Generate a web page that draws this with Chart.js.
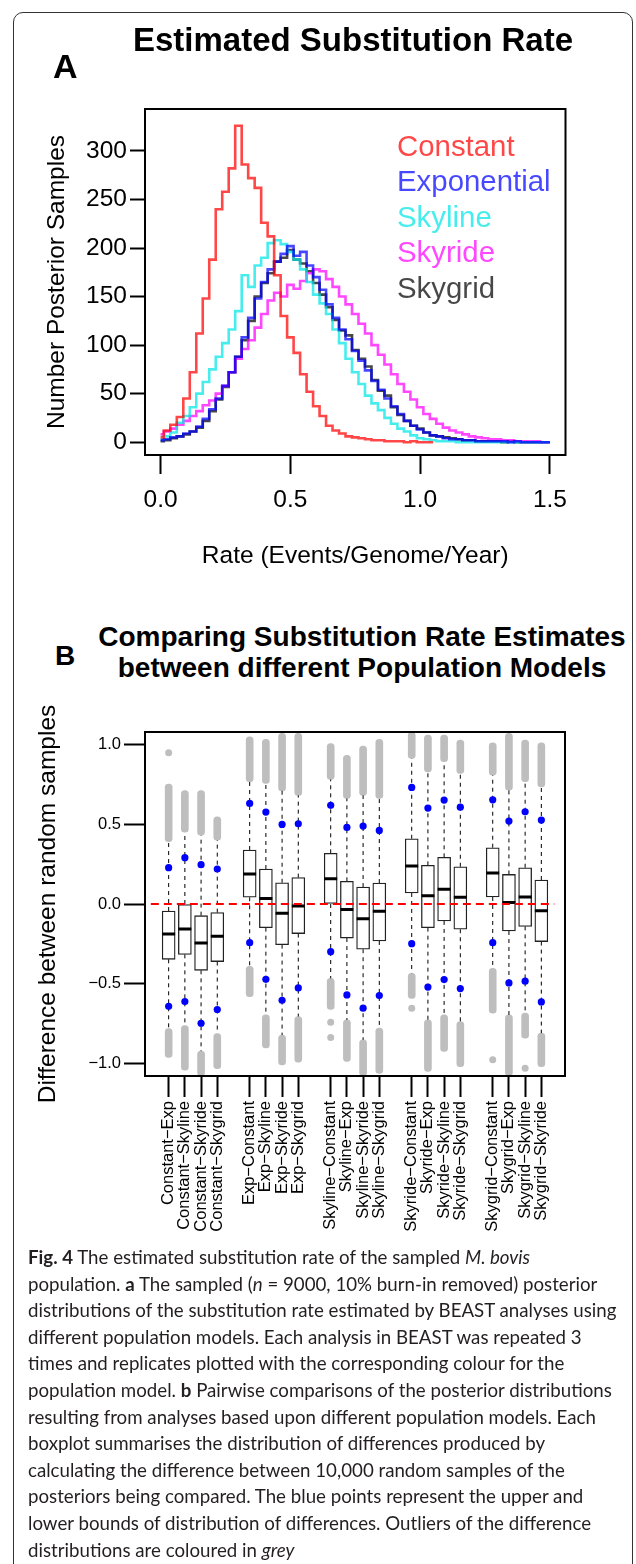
<!DOCTYPE html>
<html>
<head>
<meta charset="utf-8">
<script src="https://cdn.jsdelivr.net/npm/chart.js@4.4.1/dist/chart.umd.min.js"></script>
<style>
  body { margin: 0; background: #fff; }
  #page { position: relative; width: 636px; height: 1564px; overflow: hidden; font-family: 'Liberation Sans', Arial, sans-serif; color: #000; }
  .frame { position: absolute; left: 13px; top: 12px; width: 620px; height: 1640px; border: 1.5px solid #333; border-radius: 10px; box-sizing: border-box; }
  .txt { position: absolute; white-space: nowrap; line-height: 1; }
  .bold { font-weight: bold; }
  canvas { position: absolute; left: 0; }
  #legendA { position: absolute; left: 397px; top: 128px; font-size: 29.4px; line-height: 35.4px; white-space: nowrap; }
  #caption { position: absolute; left: 28px; top: 1244px; font-family: Lato, 'Open Sans', sans-serif; font-size: 18.7px; line-height: 26.6px; color: #231f20; white-space: nowrap; }
</style>
</head>
<body>
<div id="page">
  <div class="frame"></div>
  <canvas id="rate-chart" width="636" height="600" style="top:0"></canvas>
  <canvas id="diff-chart" width="636" height="560" style="top:690px"></canvas>

  <div class="txt bold" style="left:353px; top:23px; font-size:33px; transform:translateX(-50%)">Estimated Substitution Rate</div>
  <div class="txt bold" style="left:53px; top:49px; font-size:34px">A</div>
  <div id="legendA"></div>

  <div class="txt bold" style="left:362px; top:621px; font-size:28px; line-height:31px; text-align:center; transform:translateX(-50%)">Comparing Substitution Rate Estimates<br>between different Population Models</div>
  <div class="txt bold" style="left:55px; top:642px; font-size:28px">B</div>

  <div id="caption">
    <div><b>Fig. 4</b> The estimated substitution rate of the sampled <i>M. bovis</i></div>
    <div>population. <b>a</b> The sampled (<i>n</i> = 9000, 10% burn-in removed) posterior</div>
    <div>distributions of the substitution rate estimated by BEAST analyses using</div>
    <div>different population models. Each analysis in BEAST was repeated 3</div>
    <div>times and replicates plotted with the corresponding colour for the</div>
    <div>population model. <b>b</b> Pairwise comparisons of the posterior distributions</div>
    <div>resulting from analyses based upon different population models. Each</div>
    <div>boxplot summarises the distribution of differences produced by</div>
    <div>calculating the difference between 10,000 random samples of the</div>
    <div>posteriors being compared. The blue points represent the upper and</div>
    <div>lower bounds of distribution of differences. Outliers of the difference</div>
    <div>distributions are coloured in <i>grey</i></div>
  </div>
</div>

<script>
// ---- panel A: posterior histograms of the rate ----
const rateBins = [0.000,0.025,0.050,0.075,0.100,0.125,0.150,0.175,0.200,0.225,
                  0.250,0.275,0.300,0.325,0.350,0.375,0.400,0.425,0.450,0.475,
                  0.500,0.525,0.550,0.575,0.600,0.625,0.650,0.675,0.700,0.725,
                  0.750,0.775,0.800,0.825,0.850,0.875,0.900,0.925,0.950,0.975,
                  1.000,1.025,1.050,1.075,1.100,1.125,1.150,1.175,1.200,1.225,
                  1.250,1.275,1.300,1.325,1.350,1.375,1.400,1.425,1.450,1.475,1.500];

const models = ["Constant", "Exponential", "Skyline", "Skyride", "Skygrid"];
const constantCounts = [5,12,18,26,45,72,112,148,188,240,
                        258,282,326,286,272,262,226,212,172,130,
                        108,92,70,52,37,27,17,12,9,6,
                        5,4,3,2,2,1,1,1,0,1,
                        0,0,0];
const exponentialCounts = [2,3,5,6,9,11,16,24,34,45,
                           58,72,88,108,128,148,165,178,186,194,
                           202,192,196,182,170,157,142,128,116,106,
                           94,84,74,63,54,45,37,29,22,17,
                           13,10,7,6,4,3,3,2,2,1,
                           1,1,1,1,0,1,0,0,0,0,0];
const skylineCounts = [3,6,10,20,27,36,50,62,75,88,
                       102,116,135,172,160,182,190,205,208,204,
                       196,188,178,165,152,143,132,116,102,86,
                       72,60,48,40,33,25,19,14,11,7,
                       4,3,2,1,1,1,0,0,0,0,
                       0,0,0,0,0,0,0,0,0,0,0];
const skyrideCounts = [8,11,14,18,22,27,32,38,43,50,
                       58,72,86,96,105,118,132,146,154,150,
                       162,158,166,174,178,176,168,160,150,142,
                       132,122,112,100,90,80,70,60,52,44,
                       36,29,24,19,15,12,10,8,6,5,
                       4,3,3,2,2,1,1,1,1,0,0];
const skygridCounts = [1,2,4,6,8,11,15,22,32,44,
                       57,72,88,105,125,150,164,174,186,190,
                       198,188,184,176,164,152,139,126,115,110,
                       95,86,78,64,53,48,36,28,22,17,
                       14,10,7,6,5,4,3,2,2,1,
                       1,1,1,0,1,0,0,0,0,0,0];
const modelCounts = [constantCounts, exponentialCounts, skylineCounts, skyrideCounts, skygridCounts];
const modelColors = ["rgba(255,0,0,0.72)", "rgba(0,0,255,0.72)", "rgba(0,230,230,0.72)",
                     "rgba(255,0,255,0.72)", "rgba(0,0,0,0.72)"];
const countTicks = [0, 50, 100, 150, 200, 250, 300];
const rateTicks = [0, 0.5, 1.0, 1.5];
const rateTickLabels = ["0.0", "0.5", "1.0", "1.5"];

// ---- panel B: pairwise differences ----
const pairLabels = ["Constant−Exp","Constant−Skyline","Constant−Skyride","Constant−Skygrid",
                    "Exp−Constant","Exp−Skyline","Exp−Skyride","Exp−Skygrid",
                    "Skyline−Constant","Skyline−Exp","Skyline−Skyride","Skyline−Skygrid",
                    "Skyride−Constant","Skyride−Exp","Skyride−Skyline","Skyride−Skygrid",
                    "Skygrid−Constant","Skygrid−Exp","Skygrid−Skyline","Skygrid−Skyride"];
const pairPos = [1,2,3,4, 6,7,8,9, 11,12,13,14, 16,17,18,19, 21,22,23,24];
const boxHigh = [-0.044,0.000,-0.073,-0.054, 0.338,0.219,0.133,0.165, 0.317,0.142,0.106,0.131,
                 0.408,0.242,0.292,0.233, 0.352,0.185,0.227,0.150];
const boxMid  = [-0.188,-0.156,-0.244,-0.202, 0.188,0.035,-0.058,-0.013, 0.158,-0.035,-0.092,-0.046,
                 0.238,0.052,0.092,0.042, 0.194,0.010,0.044,-0.042];
const boxLow  = [-0.346,-0.315,-0.415,-0.360, 0.042,-0.148,-0.254,-0.185, 0.000,-0.213,-0.283,-0.231,
                 0.069,-0.148,-0.106,-0.158, 0.044,-0.169,-0.140,-0.235];
const whiskerHigh = [0.39,0.45,0.43,0.40, 0.765,0.754,0.708,0.68, 0.779,0.66,0.68,0.66,
                     0.91,0.827,0.89,0.817, 0.806,0.712,0.765,0.733];
const whiskerLow  = [-0.78,-0.76,-0.92,-0.81, -0.39,-0.694,-0.82,-0.704, -0.465,-0.725,-0.85,-0.777,
                     -0.433,-0.725,-0.694,-0.735, -0.402,-0.694,-0.683,-0.808];
const outlierTop    = [0.75,0.71,0.71,0.546, 1.046,1.03,1.067,1.067, 1.004,0.93,0.988,1.03,
                       1.075,1.056,1.056,1.025, 1.008,1.067,1.025,1.008];
const outlierBottom = [-0.96,-1.04,-1.075,-1.03, -0.58,-0.90,-1.006,-0.99, -0.66,-0.985,-1.075,-1.06,
                       -0.59,-1.048,-0.923,-1.017, -0.683,-1.075,-0.84,-1.017];
const strayPos = [1, 11, 11, 16, 21, 23];
const strayVal = [0.946, -0.74, -0.835, -0.652, -0.975, -1.027];
const boundHigh = [0.227,0.29,0.246,0.219, 0.629,0.575,0.498,0.502, 0.617,0.479,0.4875,0.46,
                   0.729,0.60,0.65,0.606, 0.652,0.519,0.577,0.525];
const boundLow  = [-0.64,-0.61,-0.746,-0.66, -0.242,-0.471,-0.602,-0.525, -0.298,-0.569,-0.652,-0.573,
                   -0.248,-0.52,-0.473,-0.529, -0.242,-0.494,-0.483,-0.6125];
const diffTicks = [-1, -0.5, 0, 0.5, 1];
const diffTickLabels = ["−1.0", "−0.5", "0.0", "0.5", "1.0"];

Chart.defaults.font.family = "'Liberation Sans', Arial, sans-serif";
Chart.defaults.color = "#000";
Chart.defaults.animation = false;

// R-style box round the plotting region
const plotFrame = {
    id: "plotFrame",
    afterDatasetsDraw(chart) {
        const { ctx, chartArea: a } = chart;
        ctx.save();
        ctx.strokeStyle = "#000";
        ctx.lineWidth = 2;
        ctx.strokeRect(a.left, a.top, a.right - a.left, a.bottom - a.top);
        ctx.restore();
    }
};

document.addEventListener("DOMContentLoaded", () => {
    // legend text for panel A
    const legend = document.getElementById("legendA");
    models.forEach((m, k) => {
        const d = document.createElement("div");
        d.textContent = m;
        d.style.color = modelColors[k];
        legend.appendChild(d);
    });

    new Chart(document.getElementById("rate-chart"), {
        type: "line",
        data: {
            datasets: models.map((m, k) => ({
                label: m,
                data: modelCounts[k].map((v, i) => ({ x: rateBins[i], y: v })),
                borderColor: modelColors[k],
                borderWidth: 2.6,
                stepped: "middle",
                pointRadius: 0,
                fill: false
            }))
        },
        options: {
            responsive: false,
            layout: { padding: { left: 0, top: 109, right: 70.5, bottom: 0 } },
            plugins: { legend: { display: false }, tooltip: { enabled: false } },
            scales: {
                x: {
                    type: "linear", min: -0.06, max: 1.56,
                    afterBuildTicks: axis => { axis.ticks = rateTicks.map(v => ({ value: v })); },
                    afterFit: scale => { scale.height = 145; },
                    ticks: { font: { size: 24.5 }, padding: 12, maxRotation: 0, autoSkip: false,
                             callback: v => rateTickLabels[rateTicks.indexOf(v)] },
                    grid: { drawOnChartArea: false, tickLength: 19, tickWidth: 2, tickColor: "#000" },
                    border: { display: false },
                    title: { display: true, text: "Rate (Events/Genome/Year)", font: { size: 24.5 },
                             padding: { top: 0, bottom: 29.3 } }
                },
                y: {
                    min: -13.2, max: 343.2,
                    afterBuildTicks: axis => { axis.ticks = countTicks.map(v => ({ value: v })); },
                    afterFit: scale => { scale.width = 145; },
                    ticks: { font: { size: 24.5 }, padding: 3 },
                    grid: { drawOnChartArea: false, tickLength: 15, tickWidth: 2, tickColor: "#000" },
                    border: { display: false },
                    title: { display: true, text: "Number Posterior Samples", font: { size: 24.5 },
                             padding: { top: 42.3, bottom: 0 } }
                }
            }
        },
        plugins: [plotFrame]
    });

    const BOX_HALF = 0.4;
    const whiskers = [];
    const medians = [];
    pairPos.forEach((p, i) => {
        whiskers.push({ x: p, y: boxHigh[i] }, { x: p, y: whiskerHigh[i] }, { x: p, y: null },
                      { x: p, y: boxLow[i] }, { x: p, y: whiskerLow[i] }, { x: p, y: null });
        medians.push({ x: p - BOX_HALF, y: boxMid[i] }, { x: p + BOX_HALF, y: boxMid[i] }, { x: p, y: null });
    });

    new Chart(document.getElementById("diff-chart"), {
        type: "bar",
        data: {
            datasets: [
                {
                    type: "line", label: "zero", order: 0,
                    data: [{ x: -0.1, y: 0 }, { x: 24.8, y: 0 }],
                    borderColor: "#ff0000", borderWidth: 2, borderDash: [8, 5], pointRadius: 0
                },
                {
                    type: "scatter", label: "bounds", order: 1,
                    data: pairPos.map((p, i) => ({ x: p, y: boundHigh[i] }))
                        .concat(pairPos.map((p, i) => ({ x: p, y: boundLow[i] }))),
                    backgroundColor: "#0000ff", borderWidth: 0, pointRadius: 3.6
                },
                {
                    type: "line", label: "median", order: 2, data: medians,
                    borderColor: "#000", borderWidth: 3, pointRadius: 0, spanGaps: false
                },
                {
                    type: "bar", label: "box", order: 3, grouped: false,
                    data: pairPos.map((p, i) => ({ x: p, y: [boxLow[i], boxHigh[i]] })),
                    backgroundColor: "#fff", borderColor: "#222", borderWidth: 1.3,
                    borderSkipped: false, barThickness: 13
                },
                {
                    type: "line", label: "whisker", order: 4, data: whiskers,
                    borderColor: "#000", borderWidth: 1, borderDash: [4, 4], pointRadius: 0, spanGaps: false
                },
                {
                    type: "bar", label: "upper outliers", order: 5, grouped: false,
                    data: pairPos.map((p, i) => ({ x: p, y: [whiskerHigh[i], outlierTop[i]] })),
                    backgroundColor: "#bebebe", borderWidth: 0, borderSkipped: false,
                    borderRadius: 3.5, barThickness: 7
                },
                {
                    type: "bar", label: "lower outliers", order: 5, grouped: false,
                    data: pairPos.map((p, i) => ({ x: p, y: [outlierBottom[i], whiskerLow[i]] })),
                    backgroundColor: "#bebebe", borderWidth: 0, borderSkipped: false,
                    borderRadius: 3.5, barThickness: 7
                },
                {
                    type: "scatter", label: "stray outliers", order: 5,
                    data: strayPos.map((p, i) => ({ x: p, y: strayVal[i] })),
                    backgroundColor: "#bebebe", borderWidth: 0, pointRadius: 3.5
                }
            ]
        },
        options: {
            responsive: false,
            layout: { padding: { left: 0, top: 42, right: 71, bottom: 0 } },
            plugins: { legend: { display: false }, tooltip: { enabled: false } },
            scales: {
                x: {
                    type: "linear", min: -0.46, max: 25.46, offset: false,
                    afterBuildTicks: axis => { axis.ticks = pairPos.map(v => ({ value: v })); },
                    afterFit: scale => { scale.height = 174; },
                    ticks: { font: { size: 16.5 }, padding: 4, minRotation: 90, maxRotation: 90, autoSkip: false,
                             callback: v => pairLabels[pairPos.indexOf(v)] },
                    grid: { drawOnChartArea: false, tickLength: 21, tickWidth: 2, tickColor: "#000", offset: false },
                    border: { display: false }
                },
                y: {
                    min: -1.076, max: 1.076,
                    afterBuildTicks: axis => { axis.ticks = diffTicks.map(v => ({ value: v })); },
                    afterFit: scale => { scale.width = 145; },
                    ticks: { font: { size: 16.5 }, padding: 3,
                             callback: v => diffTickLabels[diffTicks.indexOf(v)] },
                    grid: { drawOnChartArea: false, tickLength: 21, tickWidth: 2, tickColor: "#000" },
                    border: { display: false },
                    title: { display: true, text: "Difference between random samples", font: { size: 24.5 },
                             padding: { top: 33.3, bottom: 0 } }
                }
            }
        },
        plugins: [plotFrame]
    });
});
</script>
</body>
</html>
